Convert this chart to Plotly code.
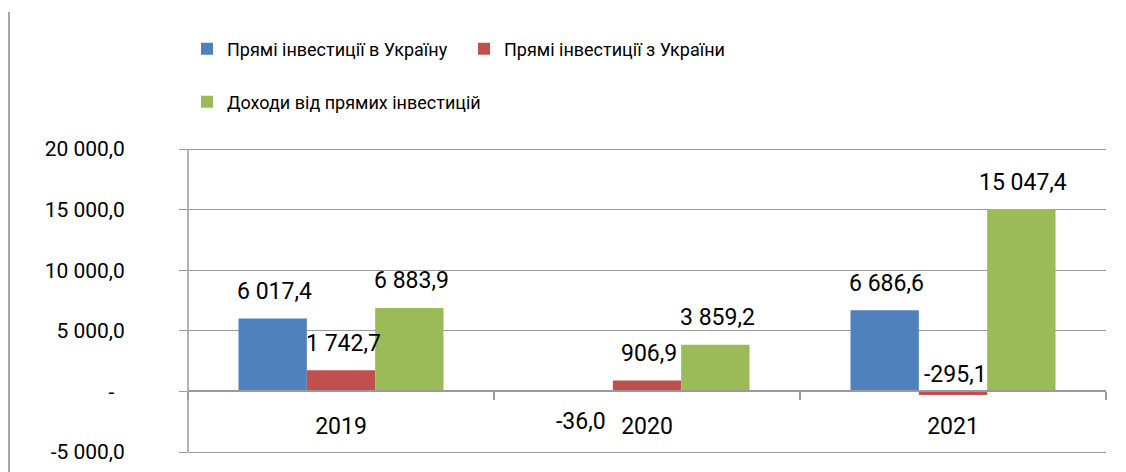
import plotly.graph_objects as go

# ---- data ----
years = ["2019", "2020", "2021"]
fdi_in = [6017.4, -36.0, 6686.6]
fdi_out = [1742.7, 906.9, -295.1]
fdi_income = [6883.9, 3859.2, 15047.4]
series_names = [
    "Прямі інвестиції в Україну",
    "Прямі інвестиції з України",
    "Доходи від прямих інвестицій",
]
y_ticks = [-5000, 0, 5000, 10000, 15000, 20000]

colors = ["#4F81BD", "#C0504D", "#9BBB59"]
grid = "#9a9a9a"
FONT = "Roboto"

# the page body adds an 8px offset; compensate
OFF = 8
W, H = 1126 - OFF, 472 - OFF
PAD_PX = 2  # small pixel padding so edge gridlines are drawn
ML, MR, MT, MB = 188 - OFF, 20, 149 - OFF - PAD_PX, 20 - PAD_PX
PW = W - ML - MR
PH = H - MT - MB
BARGAP = 0.33
PAD = (y_ticks[-1] - y_ticks[0]) * PAD_PX / (PH - 2 * PAD_PX)


def fmt(v):
    if v == 0:
        return "-\u00a0\u00a0"
    s = f"{abs(v):,.1f}".replace(",", " ").replace(".", ",")
    return ("-" if v < 0 else "") + s


fig = go.Figure()
all_series = [fdi_in, fdi_out, fdi_income]
legends = ["legend", "legend", "legend2"]
for name, vals, col, lg in zip(series_names, all_series, colors, legends):
    fig.add_trace(go.Bar(x=years, y=vals, name=name, marker_color=col,
                         marker_line_width=0, legend=lg))

# data labels
cat_w = PW / len(years)
bar_w = cat_w * (1 - BARGAP) / 3
for si, vals in enumerate(all_series):
    for ci, v in enumerate(vals):
        y = v
        ys = 27
        if v < 0:
            ys = -30
        if si == 1 and years[ci] == "2021":
            y, ys = 0, 17
        fig.add_annotation(x=ci, y=y, text=fmt(v), showarrow=False,
                           xshift=(si - 1) * bar_w + 2, yshift=ys,
                           yanchor="middle", xanchor="center",
                           font=dict(family=FONT, size=23, color="black"))

# outer chart border line on the left
bx = (1 - ML) / PW
fig.add_shape(type="line", xref="paper", yref="paper",
              x0=bx, x1=bx, y0=(H - MB - 4) / PH, y1=-MB / PH,
              line=dict(color="#a6a6a6", width=2))

fig.update_layout(
    width=W, height=H,
    margin=dict(l=ML, r=MR, t=MT, b=MB),
    paper_bgcolor="white", plot_bgcolor="white",
    barmode="group", bargap=BARGAP, bargroupgap=0,
    font=dict(family=FONT, color="black"),
    showlegend=True,
    legend=dict(orientation="h", xref="container", yref="container",
                x=(187 - OFF) / W, y=1 - (49 - OFF) / H,
                xanchor="left", yanchor="middle",
                entrywidth=232, entrywidthmode="pixels",
                font=dict(family=FONT, size=18, color="black"),
                bgcolor="rgba(0,0,0,0)"),
    legend2=dict(orientation="h", xref="container", yref="container",
                 x=(187 - OFF) / W, y=1 - (102 - OFF) / H,
                 xanchor="left", yanchor="middle",
                 font=dict(family=FONT, size=18, color="black"),
                 bgcolor="rgba(0,0,0,0)"),
    xaxis=dict(type="category", anchor="free",
               position=(0 - y_ticks[0] + PAD) / (y_ticks[-1] - y_ticks[0] + 2 * PAD),
               range=[-0.5, len(years) - 0.5],
               showline=True, linecolor=grid, linewidth=1.5,
               ticks="outside", tickson="boundaries", ticklen=8,
               tickcolor=grid, tickwidth=1.5, showgrid=False,
               tickfont=dict(family=FONT, size=23, color="black"),
               ticklabelstandoff=14, automargin=False),
    yaxis=dict(range=[y_ticks[0] - PAD, y_ticks[-1] + PAD], tickvals=y_ticks,
               ticktext=[fmt(v) for v in y_ticks],
               showgrid=True, gridcolor=grid, gridwidth=1,
               zeroline=False, showline=False,
               ticks="outside", ticklen=8, tickcolor=grid, tickwidth=1,
               tickfont=dict(family=FONT, size=21, color="black"),
               ticklabelstandoff=50, automargin=False),
)

# vertical value-axis line spanning the gridded range
fig.add_shape(type="line", xref="paper", yref="y", x0=0, x1=0,
              y0=y_ticks[0], y1=y_ticks[-1],
              line=dict(color=grid, width=1.5), layer="above")

fig.write_html("out.html")
